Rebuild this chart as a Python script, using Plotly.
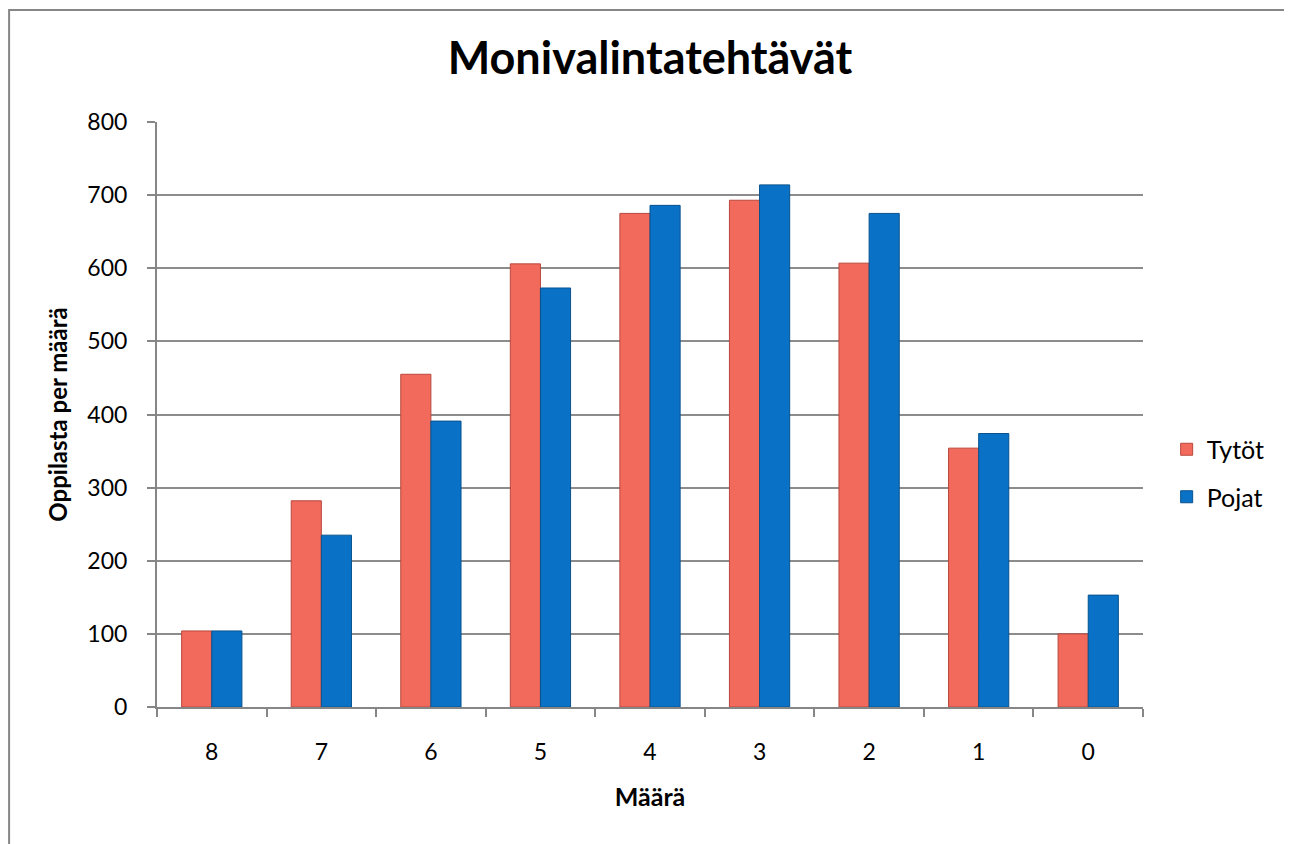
import plotly.graph_objects as go

categories = ["8", "7", "6", "5", "4", "3", "2", "1", "0"]
tytot = [104, 282, 455, 606, 675, 693, 607, 354, 100]
pojat = [104, 235, 391, 573, 686, 714, 675, 374, 153]
y_ticks = [0, 100, 200, 300, 400, 500, 600, 700, 800]

FONT = "Lato, 'Open Sans', sans-serif"

fig = go.Figure()
fig.add_trace(go.Bar(
    x=categories, y=tytot, name="Tytöt", legendgroup="t",
    marker=dict(color="#F26A5C", line=dict(color="#B8483D", width=1)),
))
fig.add_trace(go.Bar(
    x=categories, y=pojat, name="Pojat", legendgroup="p",
    marker=dict(color="#0A72C6", line=dict(color="#08528E", width=1)),
))

fig.update_layout(
    width=1284, height=836,
    margin=dict(l=149, r=149, t=114, b=137),
    paper_bgcolor="white", plot_bgcolor="white",
    barmode="group", bargap=0.45, bargroupgap=0.0,
    title=dict(text="<b>Monivalintatehtävät</b>", x=0.5, xanchor="center",
               y=0.940, yanchor="middle",
               font=dict(family=FONT, size=45, color="black")),
    font=dict(family=FONT, color="black"),
    legend=dict(x=1.024, y=0.40, xanchor="left", yanchor="middle",
                font=dict(family=FONT, size=25, color="black"),
                itemwidth=30, traceorder="grouped", tracegroupgap=12),
    xaxis=dict(
        title=dict(text="<b>Määrä</b>", font=dict(family=FONT, size=25), standoff=25),
        tickfont=dict(family=FONT, size=23),
        showline=True, linecolor="#868686", linewidth=2,
        ticks="outside", tickson="boundaries", ticklen=8, tickcolor="#868686",
        tickwidth=2, ticklabelstandoff=23,
        showgrid=False,
    ),
    yaxis=dict(
        title=dict(text="<b>Oppilasta per määrä</b>", font=dict(family=FONT, size=24), standoff=13),
        tickfont=dict(family=FONT, size=23),
        range=[0, 800], tickvals=y_ticks,
        showline=True, linecolor="#868686", linewidth=2,
        ticks="outside", ticklen=8, tickcolor="#868686", tickwidth=2,
        ticklabelstandoff=15,
        showgrid=True, gridcolor="#8C8C8C", gridwidth=2,
        zeroline=False,
    ),
    shapes=[dict(type="rect", xref="paper", yref="paper",
                 x0=-0.150, x1=1.147, y0=-0.26, y1=1.1915,
                 line=dict(color="#868686", width=2), layer="below")],
)

fig.write_html("out.html")
